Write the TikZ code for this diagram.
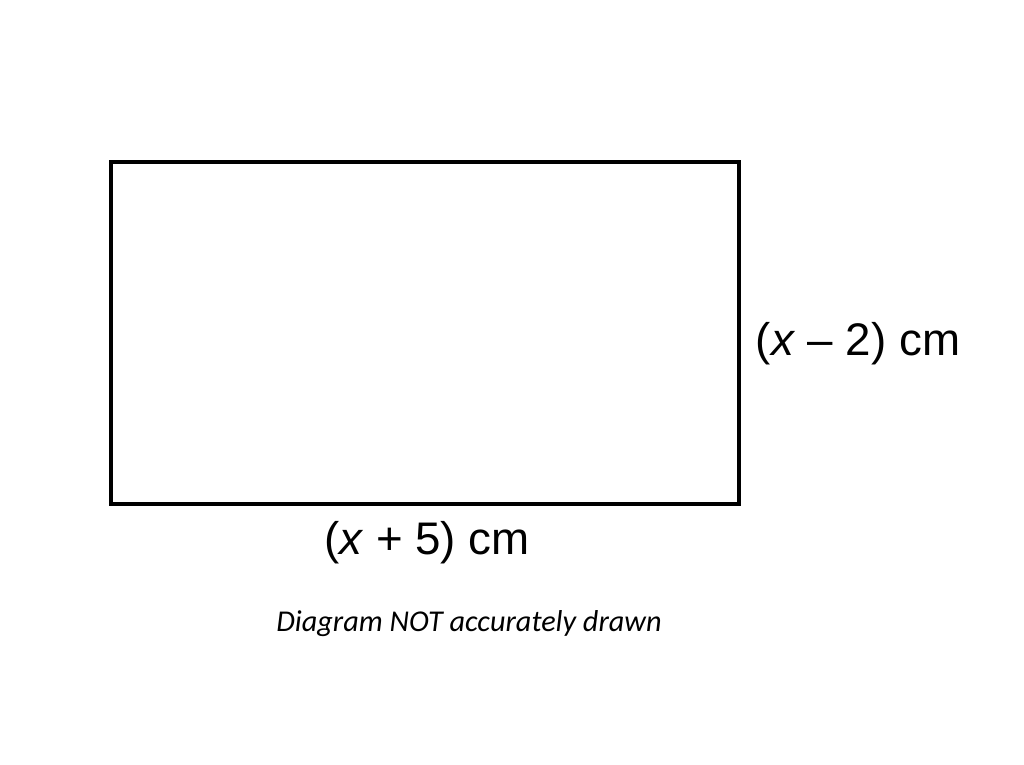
\documentclass[tikz,border=0pt]{standalone}
\usepackage{fontspec}
\setmainfont{Liberation Sans}
\newfontfamily\notefont{Carlito}
\usepackage{tikz}
\tikzset{>=latex}

\begin{document}
\begin{tikzpicture}
\useasboundingbox (0,0) rectangle (10.24,7.65);
\coordinate (sw) at (1.11, 2.61);
\coordinate (ne) at (7.39, 6.03);
\draw[line width = 1pt] (sw) rectangle (ne);
\node (base) at (4.27, 2.22) {\fontsize{13}{15}\selectfont (\textit{x} + 5) cm};
\node (side) at (8.58, 4.21) {\fontsize{13}{15}\selectfont (\textit{x} -- 2) cm};
\node (note) at (4.69, 1.41) {\notefont\itshape\fontsize{8.6}{10}\selectfont Diagram NOT accurately drawn};
\end{tikzpicture}
\end{document}
